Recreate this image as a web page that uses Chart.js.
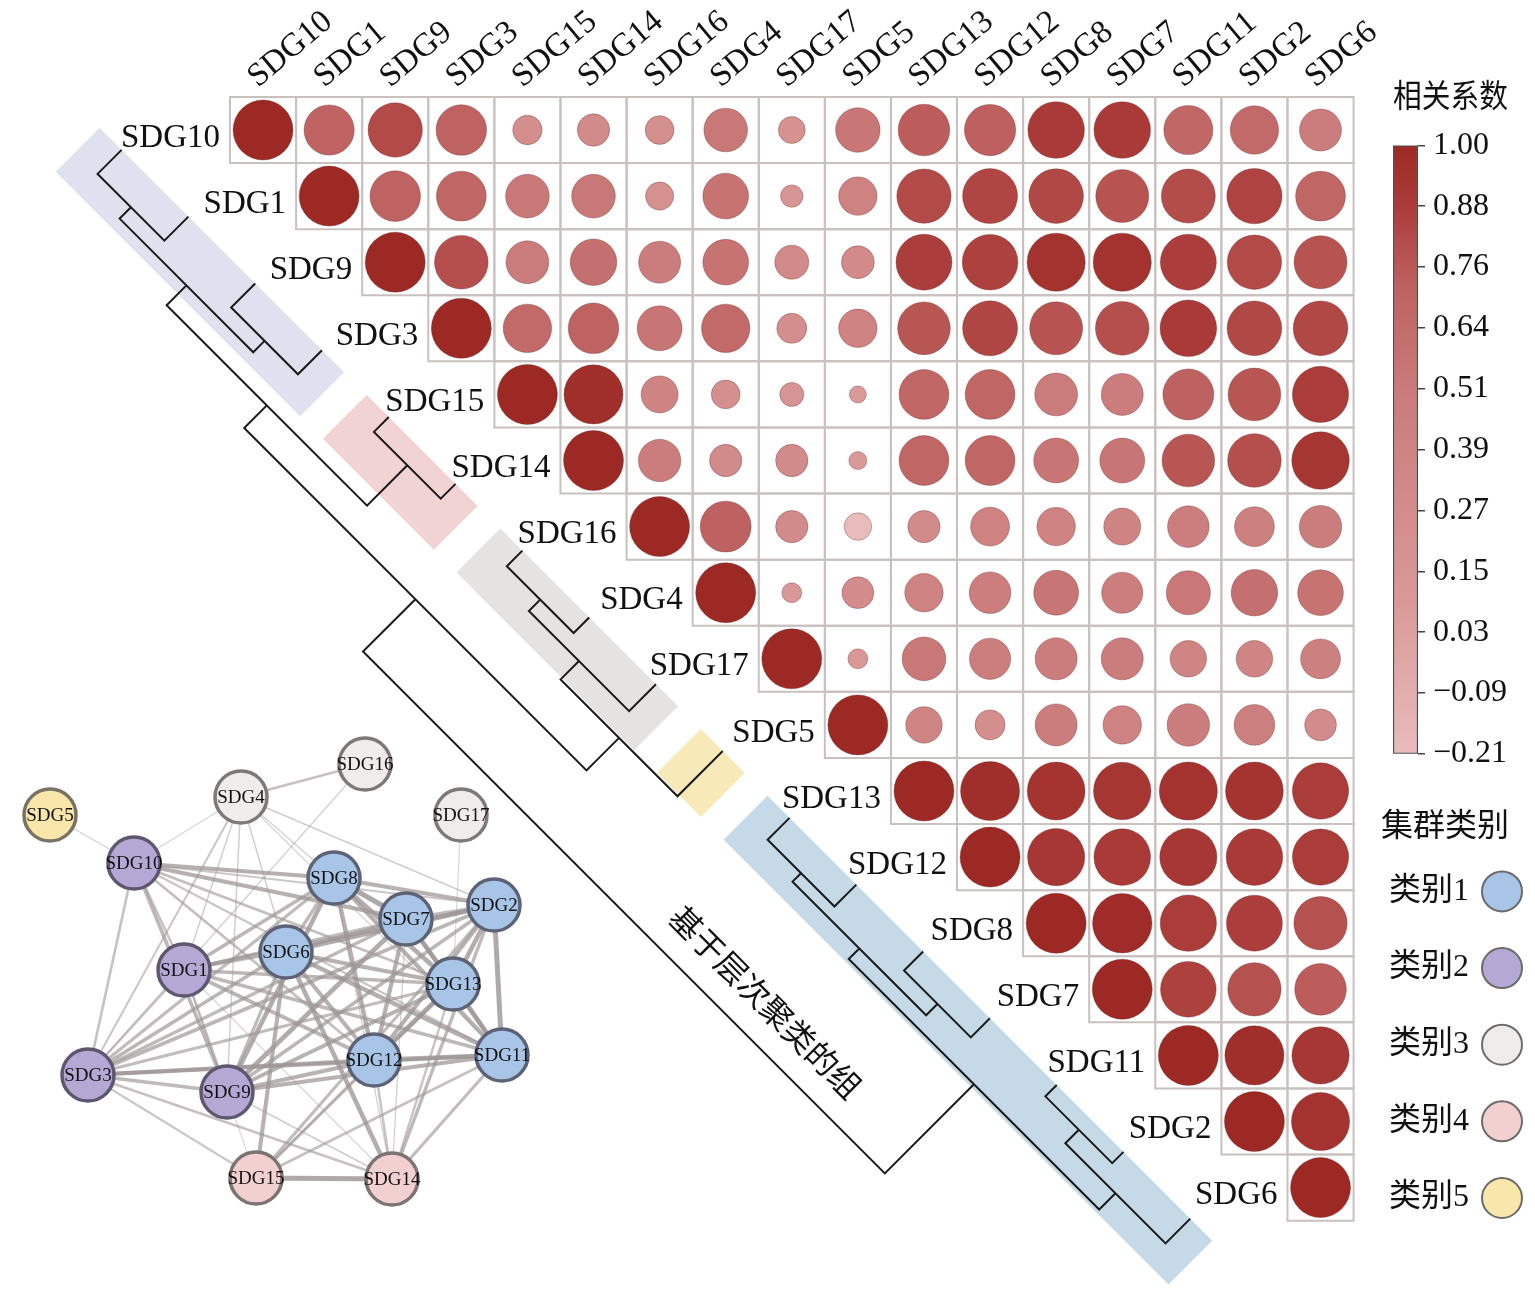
<!DOCTYPE html>
<html lang="zh">
<head>
<meta charset="UTF-8">
<title>SDG 相关系数与层次聚类</title>
<script src="https://cdn.jsdelivr.net/npm/chart.js@4.4.1/dist/chart.umd.min.js"></script>
<style>
  body { margin: 0; background: #fff; }
  #wrap { position: relative; width: 1535px; height: 1298px; }
  canvas { position: absolute; }
</style>
</head>
<body>
<div id="wrap">
  <canvas id="matrix" width="1535" height="1298" style="left:0px;top:0px"></canvas>
  <canvas id="network" width="540" height="490" style="left:0px;top:730px"></canvas>
  <canvas id="cbar" width="182" height="721" style="left:1353px;top:60px"></canvas>
  <canvas id="clusters" width="180" height="433" style="left:1355px;top:790px"></canvas>
</div>
<script>
// ---------- data ----------
const sdgOrder = ['SDG10', 'SDG1', 'SDG9', 'SDG3', 'SDG15', 'SDG14', 'SDG16', 'SDG4', 'SDG17',
                  'SDG5', 'SDG13', 'SDG12', 'SDG8', 'SDG7', 'SDG11', 'SDG2', 'SDG6'];

// upper triangle of the correlation matrix: row i holds columns i..16
const corrUpper = [
  [1.00, 0.70, 0.82, 0.71, 0.24, 0.29, 0.23, 0.53, 0.20, 0.55, 0.74, 0.73, 0.89, 0.89, 0.67, 0.65, 0.49],
  [1.00, 0.71, 0.69, 0.53, 0.53, 0.22, 0.58, 0.14, 0.41, 0.82, 0.84, 0.83, 0.78, 0.81, 0.85, 0.69],
  [1.00, 0.80, 0.51, 0.60, 0.49, 0.58, 0.32, 0.30, 0.87, 0.86, 0.94, 0.94, 0.87, 0.82, 0.78],
  [1.00, 0.65, 0.71, 0.56, 0.65, 0.25, 0.41, 0.77, 0.84, 0.78, 0.80, 0.89, 0.83, 0.83],
  [1.00, 0.97, 0.38, 0.23, 0.16, 0.08, 0.69, 0.69, 0.51, 0.49, 0.72, 0.77, 0.88],
  [1.00, 0.50, 0.29, 0.29, 0.09, 0.69, 0.69, 0.56, 0.56, 0.77, 0.80, 0.92],
  [1.00, 0.72, 0.29, -0.21, 0.29, 0.42, 0.41, 0.38, 0.48, 0.44, 0.50],
  [1.00, 0.11, 0.28, 0.41, 0.48, 0.56, 0.47, 0.54, 0.60, 0.58],
  [1.00, 0.11, 0.53, 0.47, 0.49, 0.49, 0.37, 0.37, 0.44],
  [1.00, 0.37, 0.25, 0.49, 0.41, 0.50, 0.46, 0.28],
  [1.00, 0.97, 0.93, 0.92, 0.94, 0.93, 0.88],
  [1.00, 0.91, 0.89, 0.91, 0.89, 0.88],
  [1.00, 0.98, 0.88, 0.87, 0.79],
  [1.00, 0.86, 0.79, 0.74],
  [1.00, 0.97, 0.91],
  [1.00, 0.94],
  [1.00]
];

const corrRange = [-0.21, 1.00];
const cbarTickValues = [1.00, 0.879, 0.758, 0.637, 0.516, 0.395, 0.274, 0.153, 0.032, -0.089, -0.21];
const cbarTickLabels = ['1.00', '0.88', '0.76', '0.64', '0.51', '0.39', '0.27', '0.15', '0.03', '\u22120.09', '\u22120.21'];

const clusterLabels = ['类别1', '类别2', '类别3', '类别4', '类别5'];
const clusterMembers = [
  ['SDG13', 'SDG12', 'SDG8', 'SDG7', 'SDG11', 'SDG2', 'SDG6'],
  ['SDG10', 'SDG1', 'SDG9', 'SDG3'],
  ['SDG16', 'SDG4', 'SDG17'],
  ['SDG15', 'SDG14'],
  ['SDG5']
];

// linkage rows [left, right, height]; ids >= 17 are earlier merges (17 = first row)
const dendroLinks = [
  [4, 5, 0.21],
  [14, 15, 0.16],
  [6, 7, 0.22],
  [12, 13, 0.27],
  [10, 11, 0.31],
  [0, 1, 0.34],
  [2, 3, 0.34],
  [18, 16, 0.35],
  [19, 8, 0.38],
  [21, 20, 0.43],
  [22, 23, 0.50],
  [26, 24, 0.58],
  [25, 9, 0.64],
  [27, 17, 0.78],
  [30, 29, 1.10],
  [31, 28, 1.84]
];

// network layout (layout units)
const netNames = ['SDG5', 'SDG4', 'SDG16', 'SDG17', 'SDG10', 'SDG8', 'SDG2', 'SDG7', 'SDG6',
                  'SDG1', 'SDG13', 'SDG12', 'SDG11', 'SDG3', 'SDG9', 'SDG15', 'SDG14'];
const netX = [0.50, 2.41, 3.65, 4.61, 1.34, 3.34, 4.94, 4.06, 2.86, 1.84, 4.53, 3.74, 5.02, 0.88, 2.27, 2.56, 3.92];
const netY = [0.85, 0.67, 0.34, 0.85, 1.33, 1.48, 1.75, 1.89, 2.22, 2.40, 2.54, 3.30, 3.25, 3.45, 3.62, 4.48, 4.49];
const EDGE_MIN = 0.52;

// ---------- styles ----------
const SERIF = "'Liberation Serif', 'Times New Roman', serif";
const MIXED = "'Liberation Serif', 'Noto Sans CJK SC', serif";
const CJK = "'Noto Sans CJK SC', sans-serif";
const colorStops = [
  [-0.21, [233, 188, 188]],
  [0.10, [217, 152, 152]],
  [0.50, [203, 124, 124]],
  [0.72, [190, 98, 97]],
  [0.88, [170, 60, 57]],
  [1.00, [157, 41, 37]]
];
const clusterFill = ['#a8c5e8', '#b6a8d5', '#efecec', '#f2d0d0', '#f8e6ab'];
const clusterEdge = ['#5d6276', '#5f566f', '#7e7878', '#7d7373', '#7a7264'];
const bandFill = ['#c6d9e7', '#dfe1ef', '#e5e2e2', '#f2d3d3', '#f8e9b8'];

function corrColor(v) {
  let i = 0;
  while (i < colorStops.length - 2 && v > colorStops[i + 1][0]) i++;
  const [v0, c0] = colorStops[i], [v1, c1] = colorStops[i + 1];
  const f = Math.max(0, Math.min(1, (v - v0) / (v1 - v0)));
  const c = c0.map((a, k) => Math.round(a + (c1[k] - a) * f));
  return `rgb(${c[0]},${c[1]},${c[2]})`;
}

function corr(i, j) {
  const a = Math.min(i, j), b = Math.max(i, j);
  return corrUpper[a][b - a];
}

// dendrogram coordinates: t = leaf position, h = merge height -> matrix axes
function dendroPoint(t, h) {
  return { x: -2.14 + 1.0106 * t - 1.07 * h, y: 0.30 + 1.0106 * t + 1.07 * h };
}

// ---------- matrix + dendrogram ----------
const n = sdgOrder.length;
const cellPts = [], circlePts = [];
for (let i = 0; i < n; i++) {
  for (let j = i; j < n; j++) {
    cellPts.push({ x: j, y: i });
    circlePts.push({ x: j, y: i, v: corr(i, j) });
  }
}

function cellPx(chart) {
  const xs = chart.scales.x;
  return Math.abs(xs.getPixelForValue(1) - xs.getPixelForValue(0));
}

const bandSets = clusterMembers.map((members, c) => {
  const idx = members.map(m => sdgOrder.indexOf(m));
  const a = Math.min(...idx) - 0.33, b = Math.max(...idx) + 0.33, top = 0.62;
  return {
    data: [dendroPoint(a, 0), dendroPoint(b, 0), dendroPoint(b, top), dendroPoint(a, top), dendroPoint(a, 0)],
    showLine: true, fill: 'shape', backgroundColor: bandFill[c], borderColor: 'rgba(0,0,0,0)',
    borderWidth: 0, pointRadius: 0, clip: false, order: 5
  };
});

const nodePos = [];
for (let i = 0; i < n; i++) nodePos.push({ t: i, h: 0 });
const dendroSets = dendroLinks.map(([l, r, h]) => {
  const A = nodePos[l], B = nodePos[r];
  nodePos.push({ t: (A.t + B.t) / 2, h: h });
  return {
    data: [dendroPoint(A.t, A.h), dendroPoint(A.t, h), dendroPoint(B.t, h), dendroPoint(B.t, B.h)],
    showLine: true, borderColor: '#1a1a1a', borderWidth: 2, pointRadius: 0, clip: false, order: 4
  };
});

const matrixLabels = {
  id: 'matrixLabels',
  afterDatasetsDraw(chart) {
    const { ctx, scales: { x, y } } = chart;
    ctx.save();
    ctx.fillStyle = '#111';
    ctx.font = `33px ${SERIF}`;
    ctx.textAlign = 'right';
    ctx.textBaseline = 'middle';
    sdgOrder.forEach((name, i) => {
      ctx.fillText(name, x.getPixelForValue(i - 0.5) - 10, y.getPixelForValue(i) + 8);
    });
    ctx.textAlign = 'left';
    ctx.textBaseline = 'alphabetic';
    sdgOrder.forEach((name, j) => {
      ctx.save();
      ctx.translate(x.getPixelForValue(j) - 5, y.getPixelForValue(-0.5) - 9);
      ctx.rotate(-40 * Math.PI / 180);
      ctx.fillText(name, 0, 0);
      ctx.restore();
    });
    const p = dendroPoint(11.2, 1.47);
    ctx.translate(x.getPixelForValue(p.x), y.getPixelForValue(p.y));
    ctx.rotate(Math.PI / 4);
    ctx.font = `32px ${CJK}`;
    ctx.textAlign = 'center';
    ctx.textBaseline = 'middle';
    ctx.fillText('基于层次聚类的组', 0, 0);
    ctx.restore();
  }
};

new Chart(document.getElementById('matrix'), {
  type: 'scatter',
  data: {
    datasets: [
      ...bandSets,
      ...dendroSets,
      {
        data: cellPts, pointStyle: 'rect', backgroundColor: 'rgba(0,0,0,0)',
        borderColor: '#c9c0c0', borderWidth: 2, clip: false, order: 3,
        pointRadius: c => cellPx(c.chart) / Math.SQRT2
      },
      {
        data: circlePts, clip: false, order: 2, borderWidth: 1,
        pointRadius: c => c.raw ? 0.454 * cellPx(c.chart) * Math.sqrt(Math.abs(c.raw.v)) : 0,
        backgroundColor: c => c.raw ? corrColor(c.raw.v) : '#000',
        borderColor: 'rgba(110,40,40,0.35)'
      }
    ]
  },
  options: {
    responsive: false, animation: false, events: [],
    layout: { padding: 0, autoPadding: false },
    scales: {
      x: { type: 'linear', min: -3.98, max: 19.245, display: false },
      y: { type: 'linear', min: -1.967, max: 17.67, reverse: true, display: false }
    },
    plugins: { legend: { display: false }, tooltip: { enabled: false } }
  },
  plugins: [matrixLabels]
});

// ---------- network ----------
const nodeCluster = netNames.map(nm => clusterMembers.findIndex(m => m.includes(nm)));
const edgeSets = [];
for (let a = 0; a < netNames.length; a++) {
  for (let b = a + 1; b < netNames.length; b++) {
    const r = corr(sdgOrder.indexOf(netNames[a]), sdgOrder.indexOf(netNames[b]));
    if (r < EDGE_MIN) continue;
    const f = (r - EDGE_MIN) / (1 - EDGE_MIN);
    edgeSets.push({
      data: [{ x: netX[a], y: netY[a] }, { x: netX[b], y: netY[b] }],
      showLine: true, pointRadius: 0, order: 2,
      borderWidth: 1 + 4.2 * f,
      borderColor: `rgba(158,150,150,${(0.4 + 0.45 * f).toFixed(2)})`
    });
  }
}

const nodeLabels = {
  id: 'nodeLabels',
  afterDatasetsDraw(chart) {
    const { ctx, scales: { x, y } } = chart;
    ctx.save();
    ctx.font = `19px ${SERIF}`;
    ctx.fillStyle = '#111';
    ctx.textAlign = 'center';
    ctx.textBaseline = 'middle';
    netNames.forEach((nm, k) => ctx.fillText(nm, x.getPixelForValue(netX[k]), y.getPixelForValue(netY[k]) + 1));
    ctx.restore();
  }
};

new Chart(document.getElementById('network'), {
  type: 'scatter',
  data: {
    datasets: [
      ...edgeSets,
      {
        data: netNames.map((nm, k) => ({ x: netX[k], y: netY[k] })),
        pointRadius: 26, borderWidth: 3.5, clip: false, order: 1,
        backgroundColor: nodeCluster.map(c => clusterFill[c]),
        borderColor: nodeCluster.map(c => clusterEdge[c])
      }
    ]
  },
  options: {
    responsive: false, animation: false, events: [],
    layout: { padding: 0, autoPadding: false },
    scales: {
      x: { type: 'linear', min: 0, max: 5.4, display: false },
      y: { type: 'linear', min: 0, max: 4.9, reverse: true, display: false }
    },
    plugins: { legend: { display: false }, tooltip: { enabled: false } }
  },
  plugins: [nodeLabels]
});

// ---------- colour bar ----------
function cbarGradient(c) {
  const chart = c.chart;
  if (!chart.chartArea) return corrColor(0.5);
  const ys = chart.scales.y;
  const g = chart.ctx.createLinearGradient(0, ys.getPixelForValue(corrRange[0]), 0, ys.getPixelForValue(corrRange[1]));
  colorStops.forEach(([v, rgb]) => g.addColorStop((v - corrRange[0]) / (corrRange[1] - corrRange[0]), `rgb(${rgb.join(',')})`));
  return g;
}

new Chart(document.getElementById('cbar'), {
  type: 'bar',
  data: {
    labels: [''],
    datasets: [{
      data: [corrRange], backgroundColor: cbarGradient, borderColor: '#4d4d4d', borderWidth: 1.5,
      borderSkipped: false, barPercentage: 1, categoryPercentage: 1
    }]
  },
  options: {
    responsive: false, animation: false, events: [],
    layout: { padding: { left: 40, right: 27, top: 0, bottom: 20 }, autoPadding: false },
    plugins: {
      legend: { display: false }, tooltip: { enabled: false },
      title: {
        display: true, text: '相关系数', color: '#111',
        font: { family: CJK, size: 32, weight: 'normal' }, padding: { top: 16, bottom: 31 }
      }
    },
    scales: {
      x: { display: false },
      y: {
        position: 'right', min: corrRange[0], max: corrRange[1],
        afterBuildTicks: s => { s.ticks = cbarTickValues.map(v => ({ value: v })); },
        afterFit: s => { s.width = 90; },
        ticks: {
          autoSkip: false, padding: 8, color: '#111', font: { family: SERIF, size: 32 },
          callback: (v, i) => cbarTickLabels[i]
        },
        grid: { drawOnChartArea: false, tickLength: 7, color: '#444', lineWidth: 1.5 },
        border: { display: false }
      }
    }
  }
});

// ---------- cluster legend ----------
new Chart(document.getElementById('clusters'), {
  type: 'scatter',
  data: {
    datasets: [{
      data: clusterLabels.map(l => ({ x: 0.5, y: l })),
      pointRadius: 20, borderWidth: 2, clip: false,
      backgroundColor: clusterFill, borderColor: '#6b6b6b'
    }]
  },
  options: {
    responsive: false, animation: false, events: [],
    layout: { padding: { bottom: 25 }, autoPadding: false },
    plugins: {
      legend: { display: false }, tooltip: { enabled: false },
      title: {
        display: true, text: '集群类别', color: '#111',
        font: { family: CJK, size: 32, weight: 'normal' }, padding: { top: 15, bottom: 48 }
      }
    },
    scales: {
      x: { type: 'linear', min: 0, max: 1, display: false },
      y: {
        type: 'category', labels: clusterLabels, offset: false,
        afterFit: s => { s.width = 114; },
        ticks: { padding: 0, color: '#111', font: { family: MIXED, size: 32 } },
        grid: { display: false, drawTicks: false },
        border: { display: false }
      }
    }
  }
});
</script>
</body>
</html>
